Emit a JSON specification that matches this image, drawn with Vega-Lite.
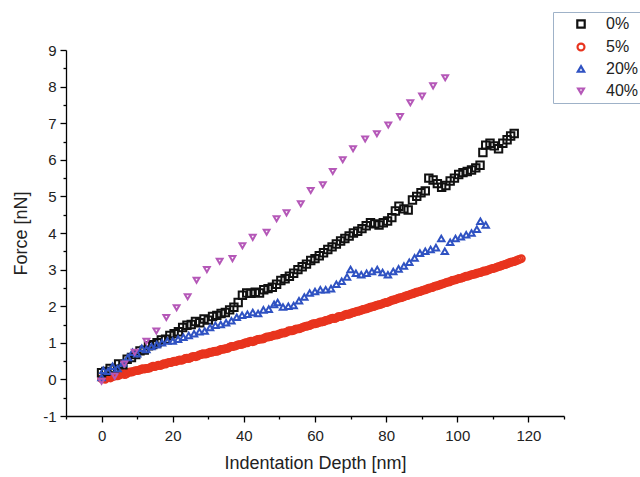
{
  "$schema": "https://vega.github.io/schema/vega-lite/v6.json",
  "autosize": {"type": "none"},
  "width": 498,
  "height": 366,
  "padding": {"left": 66, "top": 50, "right": 76, "bottom": 61},
  "background": "white",
  "config": {
    "view": {"stroke": null},
    "font": "Liberation Sans",
    "axis": {"grid": false, "domainColor": "#000", "tickColor": "#000", "domainWidth": 1.3, "tickWidth": 1.3, "labelColor": "#222", "titleColor": "#222", "labelFont": "Liberation Sans", "titleFont": "Liberation Sans", "labelFontSize": 15, "titleFontSize": 18, "titleFontWeight": "normal"}
  },
  "datasets": {
    "pts": [
      {"x":0,"y":0.02,"s":"5%"},{"x":1,"y":0.0,"s":"5%"},{"x":2,"y":0.06,"s":"5%"},{"x":3,"y":0.07,"s":"5%"},{"x":4,"y":0.1,"s":"5%"},{"x":5,"y":0.12,"s":"5%"},{"x":6,"y":0.16,"s":"5%"},{"x":7,"y":0.15,"s":"5%"},{"x":8,"y":0.2,"s":"5%"},{"x":9,"y":0.22,"s":"5%"},
      {"x":10,"y":0.24,"s":"5%"},{"x":11,"y":0.27,"s":"5%"},{"x":12,"y":0.28,"s":"5%"},{"x":13,"y":0.3,"s":"5%"},{"x":14,"y":0.34,"s":"5%"},{"x":15,"y":0.35,"s":"5%"},{"x":16,"y":0.39,"s":"5%"},{"x":17,"y":0.4,"s":"5%"},{"x":18,"y":0.42,"s":"5%"},{"x":19,"y":0.46,"s":"5%"},
      {"x":20,"y":0.48,"s":"5%"},{"x":21,"y":0.49,"s":"5%"},{"x":22,"y":0.53,"s":"5%"},{"x":23,"y":0.54,"s":"5%"},{"x":24,"y":0.58,"s":"5%"},{"x":25,"y":0.59,"s":"5%"},{"x":26,"y":0.63,"s":"5%"},{"x":27,"y":0.64,"s":"5%"},{"x":28,"y":0.68,"s":"5%"},{"x":29,"y":0.69,"s":"5%"},
      {"x":30,"y":0.72,"s":"5%"},{"x":31,"y":0.74,"s":"5%"},{"x":32,"y":0.77,"s":"5%"},{"x":33,"y":0.79,"s":"5%"},{"x":34,"y":0.82,"s":"5%"},{"x":35,"y":0.84,"s":"5%"},{"x":36,"y":0.88,"s":"5%"},{"x":37,"y":0.9,"s":"5%"},{"x":38,"y":0.93,"s":"5%"},{"x":39,"y":0.95,"s":"5%"},
      {"x":40,"y":0.98,"s":"5%"},{"x":41,"y":1.0,"s":"5%"},{"x":42,"y":1.04,"s":"5%"},{"x":43,"y":1.05,"s":"5%"},{"x":44,"y":1.09,"s":"5%"},{"x":45,"y":1.1,"s":"5%"},{"x":46,"y":1.14,"s":"5%"},{"x":47,"y":1.16,"s":"5%"},{"x":48,"y":1.19,"s":"5%"},{"x":49,"y":1.21,"s":"5%"},
      {"x":50,"y":1.24,"s":"5%"},{"x":51,"y":1.27,"s":"5%"},{"x":52,"y":1.29,"s":"5%"},{"x":53,"y":1.33,"s":"5%"},{"x":54,"y":1.34,"s":"5%"},{"x":55,"y":1.38,"s":"5%"},{"x":56,"y":1.4,"s":"5%"},{"x":57,"y":1.44,"s":"5%"},{"x":58,"y":1.46,"s":"5%"},{"x":59,"y":1.5,"s":"5%"},
      {"x":60,"y":1.52,"s":"5%"},{"x":61,"y":1.55,"s":"5%"},{"x":62,"y":1.57,"s":"5%"},{"x":63,"y":1.61,"s":"5%"},{"x":64,"y":1.63,"s":"5%"},{"x":65,"y":1.67,"s":"5%"},{"x":66,"y":1.68,"s":"5%"},{"x":67,"y":1.72,"s":"5%"},{"x":68,"y":1.74,"s":"5%"},{"x":69,"y":1.78,"s":"5%"},
      {"x":70,"y":1.8,"s":"5%"},{"x":71,"y":1.83,"s":"5%"},{"x":72,"y":1.86,"s":"5%"},{"x":73,"y":1.89,"s":"5%"},{"x":74,"y":1.92,"s":"5%"},{"x":75,"y":1.95,"s":"5%"},{"x":76,"y":1.98,"s":"5%"},{"x":77,"y":2.01,"s":"5%"},{"x":78,"y":2.04,"s":"5%"},{"x":79,"y":2.07,"s":"5%"},
      {"x":80,"y":2.1,"s":"5%"},{"x":81,"y":2.13,"s":"5%"},{"x":82,"y":2.17,"s":"5%"},{"x":83,"y":2.2,"s":"5%"},{"x":84,"y":2.23,"s":"5%"},{"x":85,"y":2.26,"s":"5%"},{"x":86,"y":2.29,"s":"5%"},{"x":87,"y":2.33,"s":"5%"},{"x":88,"y":2.36,"s":"5%"},{"x":89,"y":2.39,"s":"5%"},
      {"x":90,"y":2.42,"s":"5%"},{"x":91,"y":2.45,"s":"5%"},{"x":92,"y":2.49,"s":"5%"},{"x":93,"y":2.51,"s":"5%"},{"x":94,"y":2.55,"s":"5%"},{"x":95,"y":2.58,"s":"5%"},{"x":96,"y":2.61,"s":"5%"},{"x":97,"y":2.65,"s":"5%"},{"x":98,"y":2.67,"s":"5%"},{"x":99,"y":2.71,"s":"5%"},
      {"x":100,"y":2.74,"s":"5%"},{"x":101,"y":2.76,"s":"5%"},{"x":102,"y":2.8,"s":"5%"},{"x":103,"y":2.82,"s":"5%"},{"x":104,"y":2.86,"s":"5%"},{"x":105,"y":2.88,"s":"5%"},{"x":106,"y":2.91,"s":"5%"},{"x":107,"y":2.94,"s":"5%"},{"x":108,"y":2.96,"s":"5%"},{"x":109,"y":3.0,"s":"5%"},
      {"x":110,"y":3.03,"s":"5%"},{"x":111,"y":3.06,"s":"5%"},{"x":112,"y":3.09,"s":"5%"},{"x":113,"y":3.13,"s":"5%"},{"x":114,"y":3.16,"s":"5%"},{"x":115,"y":3.2,"s":"5%"},{"x":116,"y":3.22,"s":"5%"},{"x":117,"y":3.26,"s":"5%"},{"x":118,"y":3.3,"s":"5%"},
      {"x":0.5,"y":0.03,"s":"5%"},{"x":1.5,"y":0.05,"s":"5%"},{"x":2.5,"y":0.04,"s":"5%"},{"x":3.5,"y":0.09,"s":"5%"},{"x":4.5,"y":0.1,"s":"5%"},{"x":5.5,"y":0.15,"s":"5%"},{"x":6.5,"y":0.13,"s":"5%"},{"x":7.5,"y":0.19,"s":"5%"},{"x":8.5,"y":0.2,"s":"5%"},{"x":9.5,"y":0.24,"s":"5%"},
      {"x":10.5,"y":0.25,"s":"5%"},{"x":11.5,"y":0.29,"s":"5%"},{"x":12.5,"y":0.3,"s":"5%"},{"x":13.5,"y":0.31,"s":"5%"},{"x":14.5,"y":0.36,"s":"5%"},{"x":15.5,"y":0.37,"s":"5%"},{"x":16.5,"y":0.38,"s":"5%"},{"x":17.5,"y":0.43,"s":"5%"},{"x":18.5,"y":0.45,"s":"5%"},{"x":19.5,"y":0.46,"s":"5%"},
      {"x":20.5,"y":0.5,"s":"5%"},{"x":21.5,"y":0.52,"s":"5%"},{"x":22.5,"y":0.52,"s":"5%"},{"x":23.5,"y":0.57,"s":"5%"},{"x":24.5,"y":0.57,"s":"5%"},{"x":25.5,"y":0.62,"s":"5%"},{"x":26.5,"y":0.62,"s":"5%"},{"x":27.5,"y":0.67,"s":"5%"},{"x":28.5,"y":0.7,"s":"5%"},{"x":29.5,"y":0.7,"s":"5%"},
      {"x":30.5,"y":0.74,"s":"5%"},{"x":31.5,"y":0.76,"s":"5%"},{"x":32.5,"y":0.77,"s":"5%"},{"x":33.5,"y":0.82,"s":"5%"},{"x":34.5,"y":0.83,"s":"5%"},{"x":35.5,"y":0.85,"s":"5%"},{"x":36.5,"y":0.9,"s":"5%"},{"x":37.5,"y":0.91,"s":"5%"},{"x":38.5,"y":0.95,"s":"5%"},{"x":39.5,"y":0.96,"s":"5%"},
      {"x":40.5,"y":1.0,"s":"5%"},{"x":41.5,"y":1.03,"s":"5%"},{"x":42.5,"y":1.03,"s":"5%"},{"x":43.5,"y":1.08,"s":"5%"},{"x":44.5,"y":1.1,"s":"5%"},{"x":45.5,"y":1.11,"s":"5%"},{"x":46.5,"y":1.16,"s":"5%"},{"x":47.5,"y":1.17,"s":"5%"},{"x":48.5,"y":1.21,"s":"5%"},{"x":49.5,"y":1.22,"s":"5%"},
      {"x":50.5,"y":1.26,"s":"5%"},{"x":51.5,"y":1.27,"s":"5%"},{"x":52.5,"y":1.32,"s":"5%"},{"x":53.5,"y":1.33,"s":"5%"},{"x":54.5,"y":1.37,"s":"5%"},{"x":55.5,"y":1.38,"s":"5%"},{"x":56.5,"y":1.42,"s":"5%"},{"x":57.5,"y":1.45,"s":"5%"},{"x":58.5,"y":1.47,"s":"5%"},{"x":59.5,"y":1.52,"s":"5%"},
      {"x":60.5,"y":1.53,"s":"5%"},{"x":61.5,"y":1.57,"s":"5%"},{"x":62.5,"y":1.58,"s":"5%"},{"x":63.5,"y":1.62,"s":"5%"},{"x":64.5,"y":1.66,"s":"5%"},{"x":65.5,"y":1.66,"s":"5%"},{"x":66.5,"y":1.71,"s":"5%"},{"x":67.5,"y":1.72,"s":"5%"},{"x":68.5,"y":1.77,"s":"5%"},{"x":69.5,"y":1.78,"s":"5%"},
      {"x":70.5,"y":1.82,"s":"5%"},{"x":71.5,"y":1.85,"s":"5%"},{"x":72.5,"y":1.87,"s":"5%"},{"x":73.5,"y":1.91,"s":"5%"},{"x":74.5,"y":1.93,"s":"5%"},{"x":75.5,"y":1.97,"s":"5%"},{"x":76.5,"y":1.99,"s":"5%"},{"x":77.5,"y":2.03,"s":"5%"},{"x":78.5,"y":2.05,"s":"5%"},{"x":79.5,"y":2.09,"s":"5%"},
      {"x":80.5,"y":2.11,"s":"5%"},{"x":81.5,"y":2.16,"s":"5%"},{"x":82.5,"y":2.18,"s":"5%"},{"x":83.5,"y":2.22,"s":"5%"},{"x":84.5,"y":2.24,"s":"5%"},{"x":85.5,"y":2.28,"s":"5%"},{"x":86.5,"y":2.31,"s":"5%"},{"x":87.5,"y":2.34,"s":"5%"},{"x":88.5,"y":2.38,"s":"5%"},{"x":89.5,"y":2.4,"s":"5%"},
      {"x":90.5,"y":2.44,"s":"5%"},{"x":91.5,"y":2.47,"s":"5%"},{"x":92.5,"y":2.5,"s":"5%"},{"x":93.5,"y":2.54,"s":"5%"},{"x":94.5,"y":2.56,"s":"5%"},{"x":95.5,"y":2.6,"s":"5%"},{"x":96.5,"y":2.63,"s":"5%"},{"x":97.5,"y":2.66,"s":"5%"},{"x":98.5,"y":2.7,"s":"5%"},{"x":99.5,"y":2.72,"s":"5%"},
      {"x":100.5,"y":2.76,"s":"5%"},{"x":101.5,"y":2.78,"s":"5%"},{"x":102.5,"y":2.82,"s":"5%"},{"x":103.5,"y":2.84,"s":"5%"},{"x":104.5,"y":2.87,"s":"5%"},{"x":105.5,"y":2.9,"s":"5%"},{"x":106.5,"y":2.92,"s":"5%"},{"x":107.5,"y":2.96,"s":"5%"},{"x":108.5,"y":2.98,"s":"5%"},{"x":109.5,"y":3.02,"s":"5%"},
      {"x":110.5,"y":3.04,"s":"5%"},{"x":111.5,"y":3.08,"s":"5%"},{"x":112.5,"y":3.11,"s":"5%"},{"x":113.5,"y":3.14,"s":"5%"},{"x":114.5,"y":3.18,"s":"5%"},{"x":115.5,"y":3.21,"s":"5%"},{"x":116.5,"y":3.24,"s":"5%"},{"x":117.5,"y":3.28,"s":"5%"},

      {"x":0,"y":0.18,"s":"0%"},{"x":1.2,"y":0.22,"s":"0%"},{"x":2.4,"y":0.3,"s":"0%"},{"x":3.6,"y":0.28,"s":"0%"},{"x":4.8,"y":0.42,"s":"0%"},{"x":6,"y":0.4,"s":"0%"},{"x":7.2,"y":0.55,"s":"0%"},{"x":8.4,"y":0.6,"s":"0%"},{"x":9.6,"y":0.68,"s":"0%"},{"x":10.8,"y":0.78,"s":"0%"},
      {"x":12,"y":0.8,"s":"0%"},{"x":13.2,"y":0.92,"s":"0%"},{"x":14.4,"y":0.95,"s":"0%"},{"x":15.6,"y":1.0,"s":"0%"},{"x":16.8,"y":1.08,"s":"0%"},{"x":18,"y":1.1,"s":"0%"},{"x":19.2,"y":1.2,"s":"0%"},{"x":20.4,"y":1.25,"s":"0%"},{"x":21.6,"y":1.3,"s":"0%"},{"x":22.8,"y":1.42,"s":"0%"},
      {"x":24,"y":1.48,"s":"0%"},{"x":25.2,"y":1.5,"s":"0%"},{"x":26.4,"y":1.58,"s":"0%"},{"x":27.6,"y":1.55,"s":"0%"},{"x":28.8,"y":1.65,"s":"0%"},{"x":30,"y":1.62,"s":"0%"},{"x":31.2,"y":1.72,"s":"0%"},{"x":32.4,"y":1.75,"s":"0%"},{"x":33.6,"y":1.8,"s":"0%"},{"x":34.8,"y":1.83,"s":"0%"},
      {"x":36,"y":1.9,"s":"0%"},{"x":37.2,"y":1.97,"s":"0%"},{"x":38.4,"y":2.1,"s":"0%"},{"x":39.6,"y":2.3,"s":"0%"},{"x":40.8,"y":2.36,"s":"0%"},{"x":42,"y":2.35,"s":"0%"},{"x":43.2,"y":2.38,"s":"0%"},{"x":44.4,"y":2.36,"s":"0%"},{"x":45.6,"y":2.45,"s":"0%"},{"x":46.8,"y":2.48,"s":"0%"},
      {"x":48,"y":2.52,"s":"0%"},{"x":49.2,"y":2.6,"s":"0%"},{"x":50.4,"y":2.7,"s":"0%"},{"x":51.6,"y":2.75,"s":"0%"},{"x":52.8,"y":2.82,"s":"0%"},{"x":54,"y":2.9,"s":"0%"},{"x":55.2,"y":3.0,"s":"0%"},{"x":56.4,"y":3.08,"s":"0%"},{"x":57.6,"y":3.15,"s":"0%"},{"x":58.8,"y":3.25,"s":"0%"},
      {"x":60,"y":3.3,"s":"0%"},{"x":61.2,"y":3.38,"s":"0%"},{"x":62.4,"y":3.46,"s":"0%"},{"x":63.6,"y":3.55,"s":"0%"},{"x":64.8,"y":3.62,"s":"0%"},{"x":66,"y":3.7,"s":"0%"},{"x":67.2,"y":3.78,"s":"0%"},{"x":68.4,"y":3.85,"s":"0%"},{"x":69.6,"y":3.92,"s":"0%"},{"x":70.8,"y":4.0,"s":"0%"},
      {"x":72,"y":4.05,"s":"0%"},{"x":73.2,"y":4.12,"s":"0%"},{"x":74.4,"y":4.2,"s":"0%"},{"x":75.6,"y":4.28,"s":"0%"},{"x":76.8,"y":4.25,"s":"0%"},{"x":78,"y":4.22,"s":"0%"},{"x":79.2,"y":4.28,"s":"0%"},{"x":80.4,"y":4.33,"s":"0%"},{"x":81.6,"y":4.42,"s":"0%"},{"x":82.6,"y":4.6,"s":"0%"},
      {"x":83.6,"y":4.73,"s":"0%"},{"x":85,"y":4.66,"s":"0%"},{"x":86.2,"y":4.63,"s":"0%"},{"x":87.4,"y":4.9,"s":"0%"},{"x":88.6,"y":5.0,"s":"0%"},{"x":89.8,"y":5.1,"s":"0%"},{"x":91,"y":5.15,"s":"0%"},{"x":92,"y":5.5,"s":"0%"},{"x":93.2,"y":5.45,"s":"0%"},{"x":94.4,"y":5.35,"s":"0%"},
      {"x":95.6,"y":5.25,"s":"0%"},{"x":96.8,"y":5.3,"s":"0%"},{"x":98,"y":5.42,"s":"0%"},{"x":99.2,"y":5.5,"s":"0%"},{"x":100.4,"y":5.6,"s":"0%"},{"x":101.6,"y":5.65,"s":"0%"},{"x":102.8,"y":5.68,"s":"0%"},{"x":104,"y":5.72,"s":"0%"},{"x":105.2,"y":5.78,"s":"0%"},{"x":106.4,"y":5.85,"s":"0%"},
      {"x":107.2,"y":6.2,"s":"0%"},{"x":108,"y":6.4,"s":"0%"},{"x":109.2,"y":6.45,"s":"0%"},{"x":110.4,"y":6.38,"s":"0%"},{"x":111.6,"y":6.3,"s":"0%"},{"x":112.8,"y":6.45,"s":"0%"},{"x":114,"y":6.55,"s":"0%"},{"x":115,"y":6.65,"s":"0%"},{"x":116,"y":6.72,"s":"0%"},

      {"x":0,"y":0.05,"s":"20%"},{"x":0.5,"y":0.25,"s":"20%"},{"x":1.8,"y":0.22,"s":"20%"},{"x":3.1,"y":0.36,"s":"20%"},{"x":4.5,"y":0.3,"s":"20%"},{"x":6,"y":0.45,"s":"20%"},{"x":7.4,"y":0.6,"s":"20%"},{"x":8.7,"y":0.74,"s":"20%"},{"x":10,"y":0.7,"s":"20%"},{"x":11.3,"y":0.85,"s":"20%"},
      {"x":12.6,"y":0.82,"s":"20%"},{"x":14,"y":0.9,"s":"20%"},{"x":15.5,"y":0.95,"s":"20%"},{"x":17,"y":1.0,"s":"20%"},{"x":18.5,"y":1.05,"s":"20%"},{"x":20,"y":1.05,"s":"20%"},{"x":21.5,"y":1.1,"s":"20%"},{"x":23,"y":1.15,"s":"20%"},{"x":24.5,"y":1.2,"s":"20%"},{"x":26,"y":1.25,"s":"20%"},
      {"x":27.5,"y":1.3,"s":"20%"},{"x":29,"y":1.32,"s":"20%"},{"x":30.5,"y":1.42,"s":"20%"},{"x":32,"y":1.48,"s":"20%"},{"x":33.5,"y":1.5,"s":"20%"},{"x":35,"y":1.55,"s":"20%"},{"x":36.5,"y":1.6,"s":"20%"},{"x":38,"y":1.7,"s":"20%"},{"x":39.5,"y":1.75,"s":"20%"},{"x":41,"y":1.78,"s":"20%"},
      {"x":42.5,"y":1.83,"s":"20%"},{"x":44,"y":1.8,"s":"20%"},{"x":45.5,"y":1.9,"s":"20%"},{"x":47,"y":1.92,"s":"20%"},{"x":48.5,"y":2.05,"s":"20%"},{"x":49.5,"y":2.1,"s":"20%"},{"x":51,"y":1.98,"s":"20%"},{"x":52.5,"y":2.0,"s":"20%"},{"x":54,"y":2.02,"s":"20%"},{"x":55.5,"y":2.15,"s":"20%"},
      {"x":57,"y":2.25,"s":"20%"},{"x":58.5,"y":2.36,"s":"20%"},{"x":60,"y":2.4,"s":"20%"},{"x":61.5,"y":2.45,"s":"20%"},{"x":63,"y":2.45,"s":"20%"},{"x":64.5,"y":2.48,"s":"20%"},{"x":66,"y":2.6,"s":"20%"},{"x":67.5,"y":2.68,"s":"20%"},{"x":69,"y":2.8,"s":"20%"},{"x":70,"y":3.0,"s":"20%"},
      {"x":71.5,"y":2.9,"s":"20%"},{"x":73,"y":2.86,"s":"20%"},{"x":74.5,"y":2.9,"s":"20%"},{"x":76,"y":2.95,"s":"20%"},{"x":77.5,"y":3.0,"s":"20%"},{"x":79,"y":2.92,"s":"20%"},{"x":80.5,"y":2.86,"s":"20%"},{"x":82,"y":2.95,"s":"20%"},{"x":83.5,"y":3.02,"s":"20%"},{"x":85,"y":3.1,"s":"20%"},
      {"x":86.5,"y":3.2,"s":"20%"},{"x":88,"y":3.32,"s":"20%"},{"x":89.5,"y":3.45,"s":"20%"},{"x":91,"y":3.5,"s":"20%"},{"x":92.5,"y":3.55,"s":"20%"},{"x":94,"y":3.6,"s":"20%"},{"x":95.5,"y":3.85,"s":"20%"},{"x":96.5,"y":3.5,"s":"20%"},{"x":98,"y":3.75,"s":"20%"},{"x":99.5,"y":3.85,"s":"20%"},
      {"x":101,"y":3.9,"s":"20%"},{"x":102.5,"y":3.95,"s":"20%"},{"x":104,"y":4.0,"s":"20%"},{"x":105.5,"y":4.1,"s":"20%"},{"x":106.5,"y":4.32,"s":"20%"},{"x":108,"y":4.22,"s":"20%"},

      {"x":0,"y":-0.05,"s":"40%"},{"x":3.7,"y":0.09,"s":"40%"},{"x":6.4,"y":0.42,"s":"40%"},{"x":9.3,"y":0.74,"s":"40%"},{"x":12.6,"y":1.04,"s":"40%"},{"x":15.4,"y":1.32,"s":"40%"},{"x":18.2,"y":1.69,"s":"40%"},{"x":21.1,"y":1.96,"s":"40%"},{"x":24.2,"y":2.26,"s":"40%"},{"x":26.7,"y":2.71,"s":"40%"},
      {"x":29.6,"y":3.0,"s":"40%"},{"x":33.2,"y":3.23,"s":"40%"},{"x":36.8,"y":3.3,"s":"40%"},{"x":39.6,"y":3.65,"s":"40%"},{"x":42.5,"y":3.88,"s":"40%"},{"x":46.4,"y":4.02,"s":"40%"},{"x":49.2,"y":4.39,"s":"40%"},{"x":52.0,"y":4.55,"s":"40%"},{"x":56.0,"y":4.8,"s":"40%"},{"x":58.8,"y":5.16,"s":"40%"},
      {"x":62.2,"y":5.32,"s":"40%"},{"x":65.0,"y":5.68,"s":"40%"},{"x":67.8,"y":6.0,"s":"40%"},{"x":70.7,"y":6.3,"s":"40%"},{"x":74.1,"y":6.57,"s":"40%"},{"x":77.4,"y":6.71,"s":"40%"},{"x":80.6,"y":6.95,"s":"40%"},{"x":83.9,"y":7.18,"s":"40%"},{"x":86.8,"y":7.56,"s":"40%"},{"x":90.1,"y":7.74,"s":"40%"},
      {"x":93.2,"y":8.02,"s":"40%"},{"x":96.6,"y":8.24,"s":"40%"}
    ]
  },
  "data": {"name": "pts"},
  "mark": {"type": "point", "filled": false, "strokeWidth": 2, "opacity": 1},
  "encoding": {
    "x": {
      "field": "x", "type": "quantitative",
      "scale": {"domain": [-10, 130], "nice": false, "zero": false},
      "axis": {
        "title": "Indentation Depth [nm]",
        "values": [-10, 0, 10, 20, 30, 40, 50, 60, 70, 80, 90, 100, 110, 120, 130],
        "labelExpr": "(datum.value % 20 === 0) ? ('' + datum.value) : ''",
        "tickSize": {"condition": {"test": "datum.value % 20 === 0", "value": 6}, "value": 3},
        "labelPadding": 6,
        "titlePadding": 11,
        "labelFlush": false,
        "labelOverlap": false
      }
    },
    "y": {
      "field": "y", "type": "quantitative",
      "scale": {"domain": [-1, 9], "nice": false, "zero": false},
      "axis": {
        "title": "Force [nN]",
        "values": [-1, -0.5, 0, 0.5, 1, 1.5, 2, 2.5, 3, 3.5, 4, 4.5, 5, 5.5, 6, 6.5, 7, 7.5, 8, 8.5, 9],
        "labelExpr": "(datum.value % 1 === 0) ? ('' + datum.value) : ''",
        "tickSize": {"condition": {"test": "datum.value % 1 === 0", "value": 6}, "value": 3},
        "labelPadding": 4,
        "titlePadding": 12,
        "labelFlush": false,
        "labelOverlap": false
      }
    },
    "color": {
      "field": "s", "type": "nominal",
      "scale": {"domain": ["0%", "5%", "20%", "40%"], "range": ["#111111", "#e8341e", "#2f52c2", "#b558b8"]},
      "legend": {
        "title": null, "orient": "none", "legendX": 487, "legendY": -38,
        "padding": 4, "strokeColor": "#9fb2c8", "fillColor": "white",
        "labelFontSize": 16, "labelFont": "Liberation Sans", "labelColor": "#222",
        "symbolStrokeWidth": 2.2, "rowPadding": 6, "labelOffset": 17, "symbolOffset": 16, "symbolSize": 55
      }
    },
    "shape": {
      "field": "s", "type": "nominal",
      "scale": {"domain": ["0%", "5%", "20%", "40%"], "range": ["square", "circle", "triangle-up", "triangle-down"]}
    },
    "size": {
      "field": "s", "type": "nominal",
      "scale": {"domain": ["0%", "5%", "20%", "40%"], "range": [55, 34, 110, 110]},
      "legend": null
    }
  }
}
